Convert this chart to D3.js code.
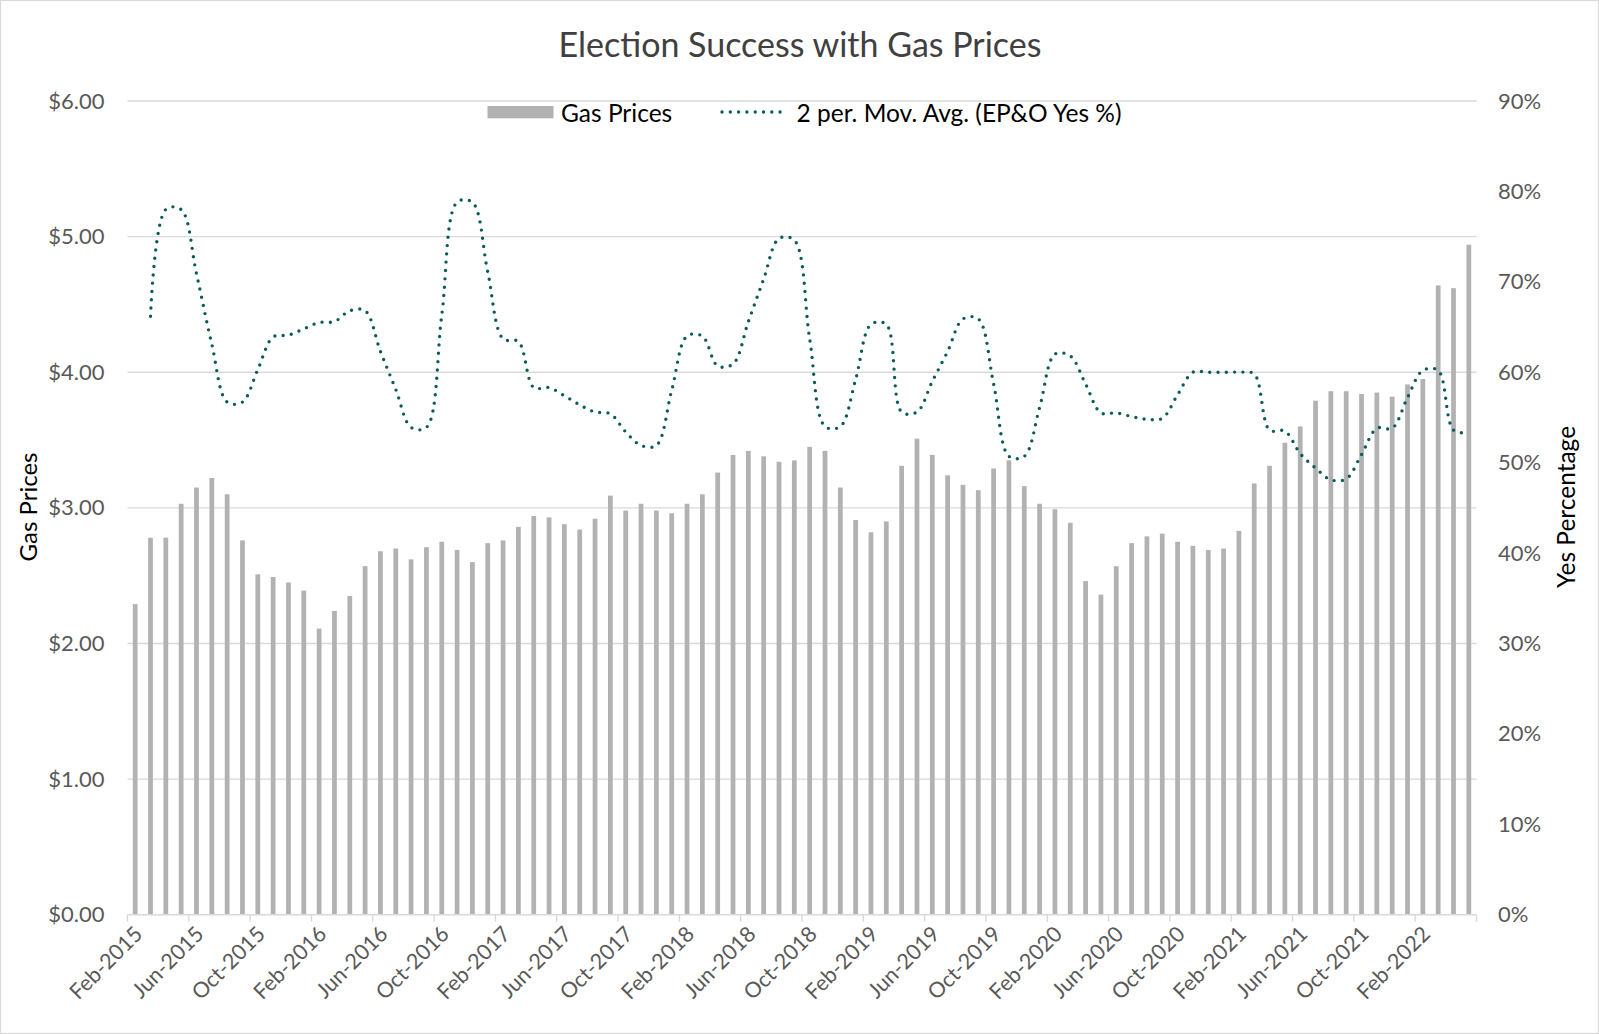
<!DOCTYPE html>
<html>
<head>
<meta charset="utf-8">
<script src="https://cdn.jsdelivr.net/npm/d3@7"></script>
<style>
  body { margin: 0; background: #fff; }
  svg { display: block; font-family: Lato, "Open Sans", sans-serif; }
</style>
</head>
<body>
<div id="chart"></div>
<script>
// Monthly categories, Feb-2015 .. May-2022
const months = d3.timeMonth.range(new Date(2015, 1, 1), new Date(2022, 5, 1));

// Gas price per month ($)
const gasPrices = [
  2.29, 2.78, 2.78, 3.03, 3.15, 3.22, 3.10, 2.76, 2.51, 2.49, 2.45, 2.39,
  2.11, 2.24, 2.35, 2.57, 2.68, 2.70, 2.62, 2.71, 2.75, 2.69, 2.60, 2.74,
  2.76, 2.86, 2.94, 2.93, 2.88, 2.84, 2.92, 3.09, 2.98, 3.03, 2.98, 2.96,
  3.03, 3.10, 3.26, 3.39, 3.42, 3.38, 3.34, 3.35, 3.45, 3.42, 3.15, 2.91,
  2.82, 2.90, 3.31, 3.51, 3.39, 3.24, 3.17, 3.13, 3.29, 3.35, 3.16, 3.03,
  2.99, 2.89, 2.46, 2.36, 2.57, 2.74, 2.79, 2.81, 2.75, 2.72, 2.69, 2.70,
  2.83, 3.18, 3.31, 3.48, 3.60, 3.79, 3.86, 3.86, 3.84, 3.85, 3.82, 3.91,
  3.95, 4.64, 4.62, 4.94
];

// 2 period moving average of EP&O Yes % (first month has no value)
const yesMovAvg = [
  null, 66.2, 78.0, 78.0, 70.9, 63.1, 56.7, 56.7, 60.3, 63.9, 64.1, 64.8,
  65.5, 65.6, 66.8, 66.8, 62.3, 58.1, 53.9, 53.9, 66.3, 78.8, 78.8, 71.1,
  63.7, 63.4, 58.3, 58.3, 57.4, 56.4, 55.6, 55.4, 53.4, 51.9, 51.9, 58.0,
  64.0, 64.0, 60.7, 60.9, 65.6, 70.3, 74.8, 74.6, 63.7, 54.0, 54.0, 59.2,
  65.3, 65.3, 55.6, 55.6, 59.0, 62.3, 65.9, 65.9, 58.7, 50.7, 50.7, 56.1,
  62.0, 61.8, 58.7, 55.5, 55.5, 55.1, 54.8, 54.9, 57.5, 60.0, 60.0, 60.0,
  60.0, 59.8, 53.6, 53.5, 51.0, 49.4, 48.1, 48.2, 50.9, 53.8, 53.8, 57.2,
  60.2, 60.2, 53.6, 53.3
];

const leftTicks = [0, 1, 2, 3, 4, 5, 6];
const rightTicks = [0, 0.1, 0.2, 0.3, 0.4, 0.5, 0.6, 0.7, 0.8, 0.9];
const labelEvery = 4;

const W = 1599, H = 1034;
const plot = { left: 127.5, right: 1476.5, top: 101, bottom: 914.7 };
const GRID = "#d9d9d9", BAR = "#b2b2b2", LINE = "#0b5b58", TXT = "#595959";

const svg = d3.select("#chart").append("svg").attr("width", W).attr("height", H);

svg.append("rect")
  .attr("x", 0.5).attr("y", 0.5).attr("width", W - 1).attr("height", H - 1)
  .attr("fill", "#fff").attr("stroke", GRID).attr("stroke-width", 1.3);

const idx = d3.range(months.length);
const x = d3.scaleBand().domain(idx).range([plot.left, plot.right])
  .paddingInner(0.69).paddingOuter(0.345);
const step = x.step();
const cx = i => x(i) + x.bandwidth() / 2;
const yL = d3.scaleLinear().domain([0, 6]).range([plot.bottom, plot.top]);
const yR = d3.scaleLinear().domain([0, 0.9]).range([plot.bottom, plot.top]);

// gridlines
svg.append("g").selectAll("line")
  .data(leftTicks.filter(d => d > 0))
  .join("line")
  .attr("x1", plot.left).attr("x2", plot.right)
  .attr("y1", d => yL(d)).attr("y2", d => yL(d))
  .attr("stroke", GRID).attr("stroke-width", 1.4);

// left axis
const gL = svg.append("g").attr("transform", `translate(${plot.left},0)`)
  .call(d3.axisLeft(yL).tickValues(leftTicks).tickFormat(d3.format("$.2f")).tickSize(0).tickPadding(23));
gL.select(".domain").remove();
gL.selectAll("text").attr("fill", TXT).style("font-size", "22px").style("font-family", "Lato");

// right axis
const gR = svg.append("g").attr("transform", `translate(${plot.right},0)`)
  .call(d3.axisRight(yR).tickValues(rightTicks).tickFormat(d3.format(".0%")).tickSize(0).tickPadding(21.5));
gR.select(".domain").remove();
gR.selectAll("text").attr("fill", TXT).style("font-size", "22px").style("font-family", "Lato");

// bars
svg.append("g").selectAll("rect")
  .data(gasPrices)
  .join("rect")
  .attr("x", (d, i) => x(i))
  .attr("width", x.bandwidth())
  .attr("y", d => yL(d))
  .attr("height", d => plot.bottom - yL(d))
  .attr("fill", BAR);

// category axis
const gX = svg.append("g");
gX.append("line")
  .attr("x1", plot.left).attr("x2", plot.right)
  .attr("y1", plot.bottom).attr("y2", plot.bottom)
  .attr("stroke", GRID).attr("stroke-width", 1.4);
const tickIdx = d3.range(0, months.length + 1, labelEvery);
gX.selectAll("line.tick")
  .data(tickIdx)
  .join("line").attr("class", "tick")
  .attr("x1", k => plot.left + k * step).attr("x2", k => plot.left + k * step)
  .attr("y1", plot.bottom).attr("y2", plot.bottom + 7)
  .attr("stroke", GRID).attr("stroke-width", 1.4);
const fmtMonth = d3.timeFormat("%b-%Y");
gX.selectAll("text")
  .data(idx.filter(i => i % labelEvery === 0))
  .join("text")
  .attr("transform", i => `translate(${cx(i) + 3},${plot.bottom + 15}) rotate(-45)`)
  .attr("text-anchor", "end")
  .attr("dominant-baseline", "central")
  .attr("fill", TXT)
  .style("font-size", "21.5px")
  .text(i => fmtMonth(months[i]));

// moving average line
const line = d3.line()
  .defined(d => d != null)
  .x((d, i) => cx(i))
  .y(d => yR(d / 100))
  .curve(d3.curveCatmullRom.alpha(0.5));
svg.append("path")
  .datum(yesMovAvg)
  .attr("d", line)
  .attr("fill", "none")
  .attr("stroke", LINE)
  .attr("stroke-width", 3.4)
  .attr("stroke-linecap", "round")
  .attr("stroke-dasharray", "0 8.3");

// title
svg.append("text")
  .attr("x", 800).attr("y", 57)
  .attr("text-anchor", "middle")
  .attr("fill", "#404040")
  .style("font-size", "34px")
  .text("Election Success with Gas Prices");

// axis titles
svg.append("text")
  .attr("transform", `translate(27,507) rotate(-90)`)
  .attr("text-anchor", "middle").attr("dominant-baseline", "central")
  .attr("fill", "#000").style("font-size", "24px")
  .text("Gas Prices");
svg.append("text")
  .attr("transform", `translate(1565,507) rotate(-90)`)
  .attr("text-anchor", "middle").attr("dominant-baseline", "central")
  .attr("fill", "#000").style("font-size", "24.5px")
  .text("Yes Percentage");

// legend
const lg = svg.append("g").attr("transform", "translate(0,112)");
lg.append("rect").attr("x", 487.5).attr("y", -6).attr("width", 66).attr("height", 12.3).attr("fill", BAR);
lg.append("text").attr("x", 561).attr("dominant-baseline", "central")
  .attr("fill", "#000").style("font-size", "24.5px").text("Gas Prices");
lg.append("line").attr("x1", 722).attr("x2", 788).attr("y1", 0).attr("y2", 0)
  .attr("stroke", LINE).attr("stroke-width", 3.4)
  .attr("stroke-linecap", "round").attr("stroke-dasharray", "0 8.3");
lg.append("text").attr("x", 796.5).attr("dominant-baseline", "central")
  .attr("fill", "#000").style("font-size", "24.5px").text("2 per. Mov. Avg. (EP&O Yes %)");
</script>
</body>
</html>
